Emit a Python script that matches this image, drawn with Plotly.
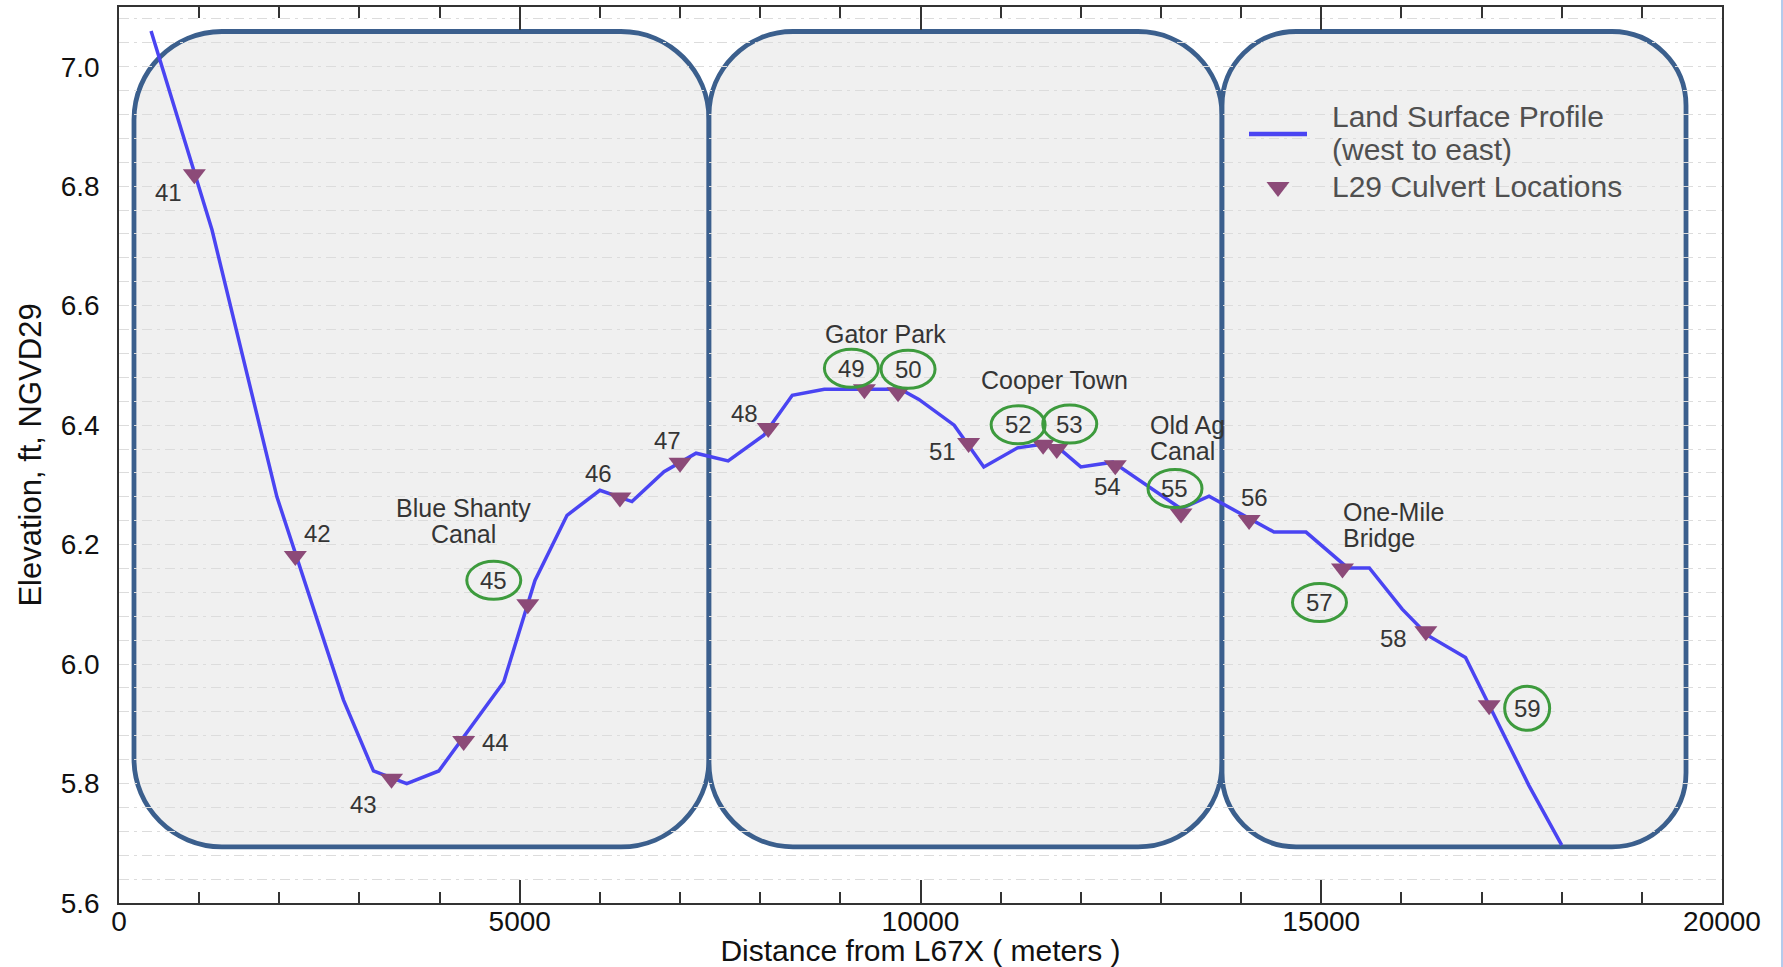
import plotly.graph_objects as go

# ---- Land surface profile along L-29 (west to east) ----
profile_dist = [400, 1160, 1970, 2800, 3175, 3590, 3990, 4800, 5190, 5590,
                6000, 6400, 6800, 7200, 7600, 8045, 8400, 8800, 9750, 9980,
                10420, 10790, 11210, 11520, 11730, 12000, 12400, 13250, 13600, 14100,
                14410, 14810, 15330, 15600, 16010, 16330, 16800, 17590, 18000]
profile_elev = [7.060, 6.727, 6.280, 5.940, 5.821, 5.800, 5.821, 5.970, 6.140, 6.249,
                6.291, 6.272, 6.322, 6.353, 6.340, 6.383, 6.450, 6.460, 6.460, 6.443,
                6.400, 6.330, 6.362, 6.368, 6.361, 6.330, 6.338, 6.260, 6.281, 6.243,
                6.221, 6.221, 6.161, 6.161, 6.092, 6.048, 6.011, 5.797, 5.697]

# ---- L29 culverts ----
culvert_id = [41, 42, 43, 44, 45, 46, 47, 48, 49, 50,
              51, 52, 53, 54, 55, 56, 57, 58, 59]
culvert_dist = [940, 2200, 3400, 4300, 5100, 6250, 7000, 8100, 9300, 9720,
                10600, 11530, 11700, 12430, 13250, 14100, 15265, 16305, 17095]
culvert_elev = [6.820, 6.181, 5.808, 5.871, 6.100, 6.279, 6.337, 6.395, 6.460, 6.455,
                6.370, 6.367, 6.360, 6.333, 6.252, 6.241, 6.160, 6.055, 5.931]
circled_ids = [45, 49, 50, 52, 53, 55, 57, 59]

# ---- axis ticks ----
x_tick_vals = [0, 5000, 10000, 15000, 20000]
x_tick_text = ["0", "5000", "10000", "15000", "20000"]
y_tick_vals = [5.6, 5.8, 6.0, 6.2, 6.4, 6.6, 6.8, 7.0]

# label placement relative to each culvert marker (px right, px down)
label_offset = {
    41: (-26, 18), 42: (22, -22), 43: (-28, 26), 44: (32, 1), 45: (-34, -24),
    46: (-21, -24), 47: (-13, -22), 48: (-24, -15), 49: (-13, -21), 50: (10, -23),
    51: (-26, 8), 52: (-25, -20), 53: (13, -25), 54: (-8, 21), 55: (-6, -25),
    56: (5, -23), 57: (-23, 34), 58: (-32, 7), 59: (38, 3),
}

# place names along the levee: (lines, x, y of first line, xanchor)
place_names = [
    (["Blue Shanty", "Canal"], 4300, 6.262, "center"),
    (["Gator Park"], 9569, 6.553, "center"),
    (["Cooper Town"], 11673, 6.475, "center"),
    (["Old Ag", "Canal"], 12842, 6.400, "left"),
    (["One-Mile", "Bridge"], 15242, 6.254, "left"),
]
NAME_LINE_GAP = 26  # px between stacked lines

# highlighted reaches (x0, x1, corner radius px)
reaches = [(187, 7361, 88), (7361, 13762, 84), (13762, 19551, 74)]
reach_bottom, reach_top = 5.694, 7.059

FONT = "Liberation Sans, Arial, Helvetica, sans-serif"
LABEL_COLOR = "#353535"
LINE_COLOR = "#4a44f2"
MARKER_COLOR = "#8c4a78"

X_RANGE = [0, 20000]
Y_RANGE = [5.6, 7.1]
MARGIN = dict(l=119, r=61, t=7, b=64)
WIDTH, HEIGHT = 1783, 967
PLOT_W = WIDTH - MARGIN["l"] - MARGIN["r"]
PLOT_H = HEIGHT - MARGIN["t"] - MARGIN["b"]
px_per_x = PLOT_W / (X_RANGE[1] - X_RANGE[0])
px_per_y = PLOT_H / (Y_RANGE[1] - Y_RANGE[0])


def paper_x(px):
    return (px - MARGIN["l"]) / PLOT_W


def paper_y(py):
    return (HEIGHT - MARGIN["b"] - py) / PLOT_H


def rounded_rect(x0, x1, y0, y1, r_px):
    rx = r_px / px_per_x
    ry = r_px / px_per_y
    k = 0.5523
    return (
        f"M {x0 + rx},{y1} L {x1 - rx},{y1} "
        f"C {x1 - rx + k * rx},{y1} {x1},{y1 - ry + k * ry} {x1},{y1 - ry} "
        f"L {x1},{y0 + ry} "
        f"C {x1},{y0 + ry - k * ry} {x1 - rx + k * rx},{y0} {x1 - rx},{y0} "
        f"L {x0 + rx},{y0} "
        f"C {x0 + rx - k * rx},{y0} {x0},{y0 + ry - k * ry} {x0},{y0 + ry} "
        f"L {x0},{y1 - ry} "
        f"C {x0},{y1 - ry + k * ry} {x0 + rx - k * rx},{y1} {x0 + rx},{y1} Z"
    )


fig = go.Figure()

fig.add_trace(go.Scatter(
    x=profile_dist, y=profile_elev, mode="lines",
    name="Land Surface Profile (west to east)",
    line=dict(color=LINE_COLOR, width=3.5),
))
fig.add_trace(go.Scatter(
    x=culvert_dist, y=culvert_elev, mode="markers",
    name="L29 Culvert Locations",
    marker=dict(symbol="triangle-down", size=20, color=MARKER_COLOR, line=dict(width=0)),
))

shapes = []
for x0, x1, r in reaches:
    shapes.append(dict(
        type="path", xref="x", yref="y", layer="below",
        path=rounded_rect(x0, x1, reach_bottom, reach_top, r),
        fillcolor="#f0f0f0", line=dict(color="#3b5f8d", width=4.8),
    ))

annotations = []
for cid, cx, cy in zip(culvert_id, culvert_dist, culvert_elev):
    dx, dy = label_offset[cid]
    annotations.append(dict(
        x=cx, y=cy, xref="x", yref="y", text=str(cid), showarrow=False,
        xshift=dx, yshift=-dy, font=dict(family=FONT, size=24, color=LABEL_COLOR),
    ))
    if cid in circled_ids:
        w, h = (45, 44) if cid == 59 else (54, 38)
        shapes.append(dict(
            type="circle", xref="x", yref="y", layer="above",
            xsizemode="pixel", ysizemode="pixel", xanchor=cx, yanchor=cy,
            x0=dx - w / 2, x1=dx + w / 2, y0=-dy - h / 2, y1=-dy + h / 2,
            line=dict(color="#3d9b3d", width=3), fillcolor="rgba(0,0,0,0)",
        ))

for lines, x, y, anchor in place_names:
    for i, line in enumerate(lines):
        annotations.append(dict(
            x=x, y=y, xref="x", yref="y", text=line, showarrow=False, xanchor=anchor,
            yshift=-i * NAME_LINE_GAP,
            font=dict(family=FONT, size=25, color=LABEL_COLOR),
        ))

# ---- legend (drawn in the upper part of the east reach) ----
LEG_SYM_X0, LEG_SYM_X1, LEG_TEXT_X = 1249, 1307, 1330
LEG_LINE_Y, LEG_MARK_Y = 134, 187
legend_font = dict(family=FONT, size=30, color="#505050")
shapes.append(dict(type="line", xref="paper", yref="paper",
                   x0=paper_x(LEG_SYM_X0), x1=paper_x(LEG_SYM_X1),
                   y0=paper_y(LEG_LINE_Y), y1=paper_y(LEG_LINE_Y),
                   line=dict(color=LINE_COLOR, width=4.5)))
shapes.append(dict(type="path", xref="paper", yref="paper",
                   xsizemode="pixel", ysizemode="pixel",
                   xanchor=paper_x((LEG_SYM_X0 + LEG_SYM_X1) / 2),
                   yanchor=paper_y(LEG_MARK_Y),
                   path="M -11.5,5 L 11.5,5 L 0,-10 Z",
                   fillcolor=MARKER_COLOR, line=dict(width=0)))
for text, py in [("Land Surface Profile", 117), ("(west to east)", 149),
                 ("L29 Culvert Locations", 187)]:
    annotations.append(dict(x=paper_x(LEG_TEXT_X), y=paper_y(py), xref="paper", yref="paper",
                            text=text, showarrow=False, xanchor="left", yanchor="middle",
                            font=legend_font))

# thin frame line at the right edge of the page
shapes.append(dict(type="line", xref="paper", yref="paper",
                   x0=paper_x(1782), x1=paper_x(1782), y0=paper_y(967), y1=paper_y(0),
                   line=dict(color="#b4cbec", width=2)))

grid_color = "#dcdcdc"
grid_dash = "10px,5px,3px,5px"

fig.update_layout(
    width=WIDTH, height=HEIGHT, margin=MARGIN,
    paper_bgcolor="white", plot_bgcolor="white",
    font=dict(family=FONT, color="#111111"),
    shapes=shapes, annotations=annotations,
    showlegend=False,
    xaxis=dict(
        range=X_RANGE, tickvals=x_tick_vals, ticktext=x_tick_text,
        ticks="inside", ticklen=23,
        tickcolor="#333333", tickwidth=1.5, showline=True, linecolor="#333333",
        linewidth=1.5, mirror="ticks", showgrid=False, zeroline=False,
        automargin=False, ticklabelstandoff=-7,
        tickfont=dict(size=28, color="#111111"),
        minor=dict(dtick=1000, ticks="inside", ticklen=11, tickcolor="#333333",
                   tickwidth=1.5, showgrid=False),
        title=dict(text="Distance from L67X ( meters )", standoff=4,
                   font=dict(size=30, color="#111111")),
    ),
    yaxis=dict(
        range=Y_RANGE, tickvals=y_tick_vals, tickformat=".1f", ticks="",
        showline=True, linecolor="#333333", linewidth=1.5, mirror=True,
        showgrid=True, gridcolor=grid_color, griddash=grid_dash,
        gridwidth=1, zeroline=False, ticklabelstandoff=12, automargin=False,
        tickfont=dict(size=28, color="#111111"),
        minor=dict(dtick=0.04, tick0=5.6, showgrid=True, gridcolor=grid_color,
                   griddash=grid_dash, gridwidth=1),
        title=dict(text="Elevation, ft, NGVD29", standoff=10,
                   font=dict(size=31, color="#111111")),
    ),
)

fig.write_html("out.html")
